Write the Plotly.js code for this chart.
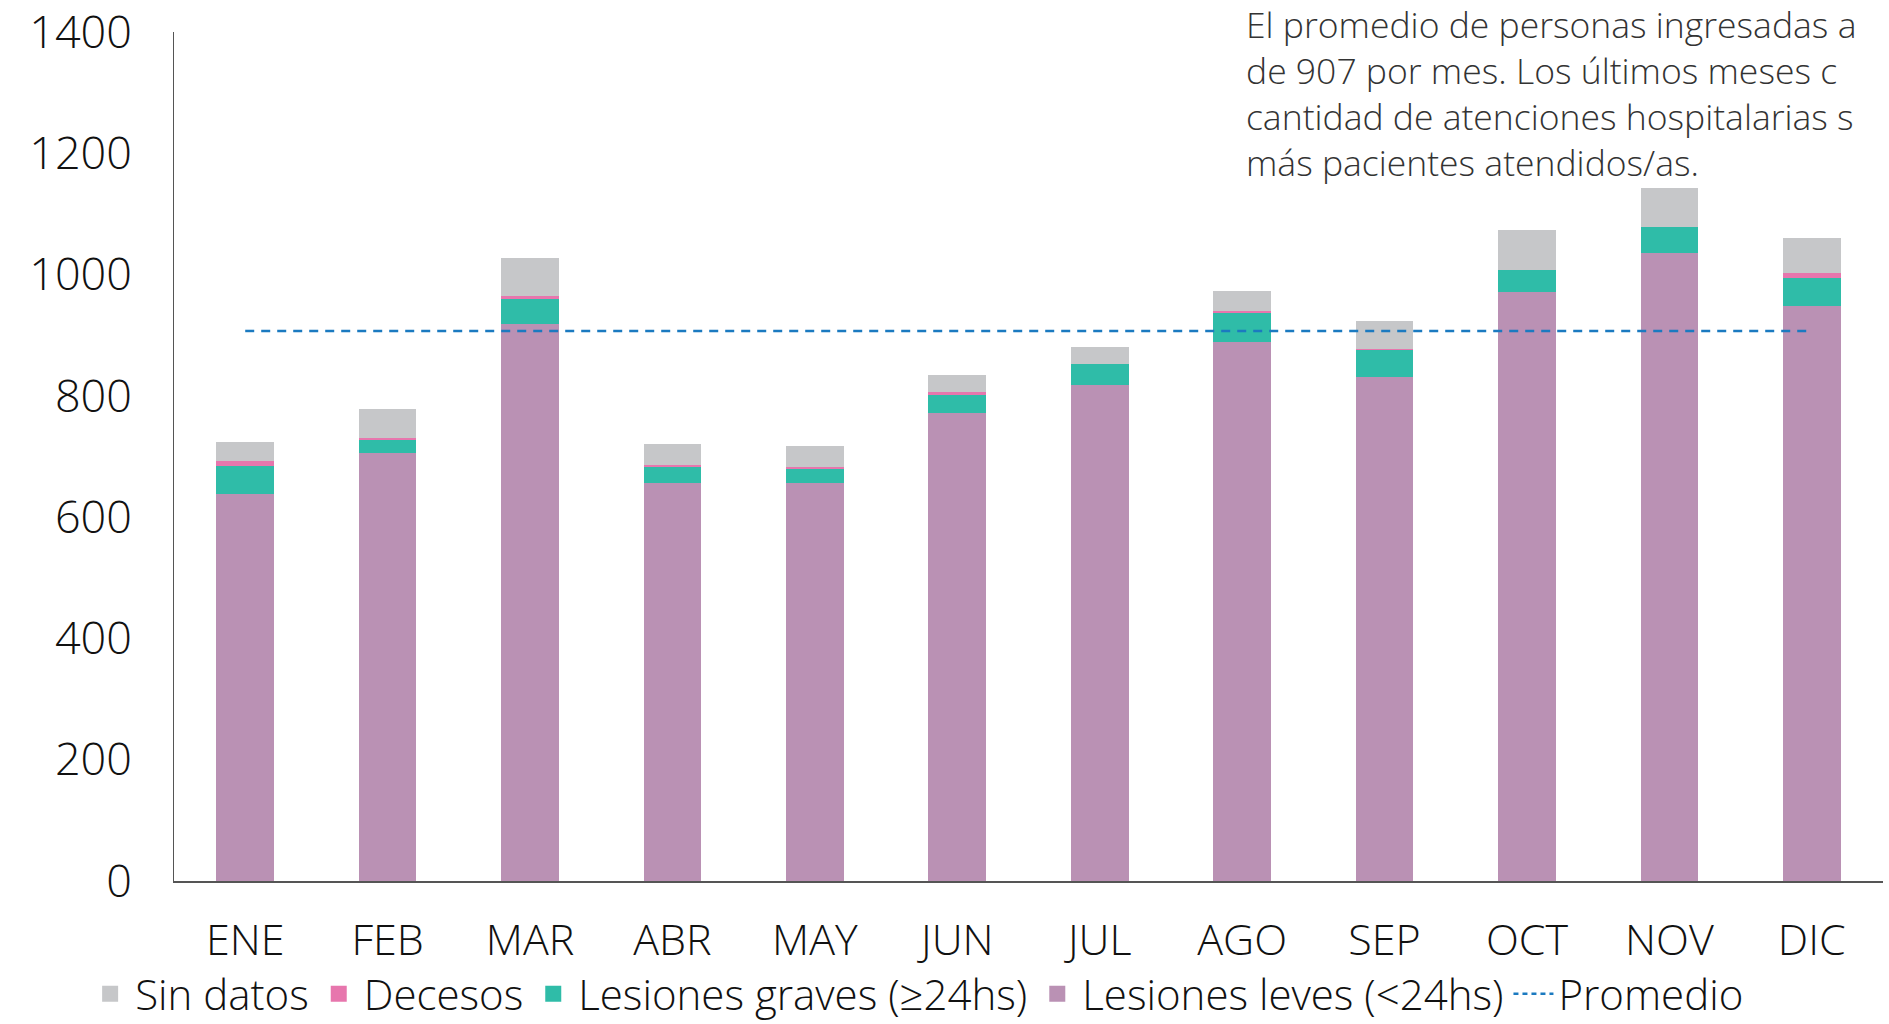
<!DOCTYPE html>
<html>
<head>
<meta charset="utf-8">
<script src="https://cdn.plot.ly/plotly-3.0.1.min.js"></script>
<style>
html,body{margin:0;padding:0;background:#fff;}
#chart{width:1889px;height:1024px;}
</style>
</head>
<body>
<div id="chart"></div>
<script>
const months = ["ENE","FEB","MAR","ABR","MAY","JUN","JUL","AGO","SEP","OCT","NOV","DIC"];
const lesionesLeves  = [638, 706, 918, 656, 657, 771, 818, 888, 831, 972, 1035, 949];
const lesionesGraves = [47, 21, 42, 26, 23, 30, 34, 48, 44, 35, 44, 45];
const decesos        = [7, 3, 4, 4, 3, 5, 0, 4, 3, 0, 0, 9];
const sinDatos       = [32, 48, 63, 35, 35, 28, 29, 33, 45, 66, 64, 58];
const promedio       = [907, 907, 907, 907, 907, 907, 907, 907, 907, 907, 907, 907];
const yTicks = [0, 200, 400, 600, 800, 1000, 1200, 1400];
const noteLines = [
  "El promedio de personas ingresadas a",
  "de 907 por mes. Los últimos meses c",
  "cantidad de atenciones hospitalarias s",
  "más pacientes atendidos/as."
];

const FONT = "'Open Sans', Lato, sans-serif";
const barW = 0.405;
const C = {gris:"#c6c7c9", rosa:"#e776ad", verde:"#2fbca8", lila:"#ba91b4", azul:"#1b7ac0"};

const traces = [
  {type:"bar", name:"Lesiones leves (<24hs)", x:months, y:lesionesLeves, width:barW,
   marker:{color:C.lila, line:{width:0}}, showlegend:false},
  {type:"bar", name:"Lesiones graves (≥24hs)", x:months, y:lesionesGraves, width:barW,
   marker:{color:C.verde, line:{width:0}}, showlegend:false},
  {type:"bar", name:"Decesos", x:months, y:decesos, width:barW,
   marker:{color:C.rosa, line:{width:0}}, showlegend:false},
  {type:"bar", name:"Sin datos", x:months, y:sinDatos, width:barW,
   marker:{color:C.gris, line:{width:0}}, showlegend:false},
  {type:"scatter", mode:"lines", name:"Promedio", x:months, y:promedio,
   line:{color:C.azul, width:2.5, dash:"9px,7px"}, showlegend:false},
  // legend swatches
  {type:"scatter", mode:"markers", name:"Sin datos", x:[null], y:[null],
   marker:{symbol:"square", size:28, color:C.gris}, legendrank:1},
  {type:"scatter", mode:"markers", name:"Decesos", x:[null], y:[null],
   marker:{symbol:"square", size:28, color:C.rosa}, legendrank:2},
  {type:"scatter", mode:"markers", name:"Lesiones graves (≥24hs)", x:[null], y:[null],
   marker:{symbol:"square", size:28, color:C.verde}, legendrank:3},
  {type:"scatter", mode:"markers", name:"Lesiones leves (<24hs)", x:[null], y:[null],
   marker:{symbol:"square", size:28, color:C.lila}, legendrank:4},
  {type:"scatter", mode:"lines", name:"Promedio", x:[null], y:[null],
   line:{color:C.azul, width:2.5, dash:"5px,4px"}, legendrank:5}
];

const layout = {
  width:1889, height:1024,
  paper_bgcolor:"#fff", plot_bgcolor:"#fff",
  barmode:"stack",
  margin:{l:174, r:6, t:32, b:143, autoexpand:false},
  font:{family:FONT, color:"#111", weight:300},
  showlegend:true,
  legend:{orientation:"h", x:-0.052, xanchor:"left", yref:"paper", y:-0.1331, yanchor:"middle",
    bgcolor:"rgba(0,0,0,0)",
    font:{family:FONT, size:42, color:"#111", weight:300},
    traceorder:"normal", itemwidth:40, tracegroupgap:0},
  xaxis:{
    type:"category", range:[-0.5, 11.5],
    showline:true, linecolor:"#555", linewidth:2,
    ticks:"", showgrid:false, zeroline:false,
    tickfont:{family:FONT, size:43, color:"#111", weight:300},
    ticklabelstandoff:20, ticklabeloverflow:"allow"
  },
  yaxis:{
    range:[0,1400], tickvals:yTicks, ticktext:yTicks.map(String),
    showline:true, linecolor:"#555", linewidth:1,
    ticks:"", showgrid:false, zeroline:false,
    tickfont:{family:FONT, size:45, color:"#111", weight:300},
    ticklabelstandoff:32, ticklabeloverflow:"allow"
  },
  annotations:[{
    xref:"paper", yref:"paper", x:0.626, y:0.928, xanchor:"left", yanchor:"middle",
    text:noteLines.join("<br>"), align:"left", showarrow:false,
    font:{family:FONT, size:35.5, color:"#333", weight:300}
  }]
};

Plotly.newPlot("chart", traces, layout, {displayModeBar:false, staticPlot:true});
</script>
</body>
</html>
